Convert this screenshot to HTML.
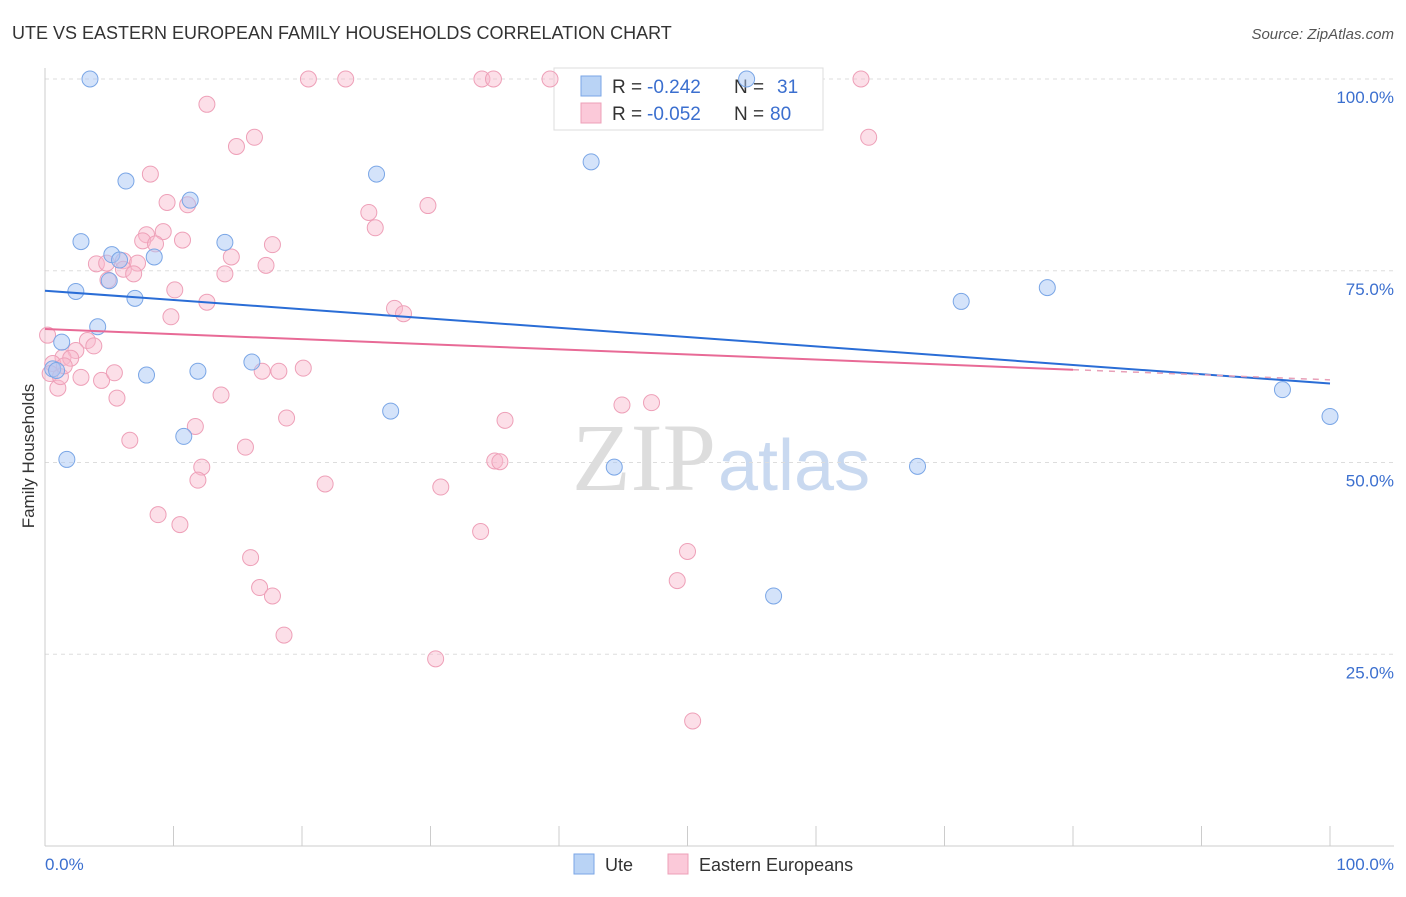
<!DOCTYPE html>
<html><head><meta charset="utf-8"><style>
body{margin:0;background:#fff;font-family:"Liberation Sans",sans-serif;}
</style></head><body>
<svg width="1406" height="892" xmlns="http://www.w3.org/2000/svg" id="svg">
<text x="12" y="39" font-size="18" fill="#333">UTE VS EASTERN EUROPEAN FAMILY HOUSEHOLDS CORRELATION CHART</text>
<text x="1394" y="39" font-size="15" fill="#555" text-anchor="end" font-style="italic">Source: ZipAtlas.com</text>
<text x="716" y="490" font-size="96" text-anchor="end" fill="#ddd" font-family="Liberation Serif">ZIP</text>
<text x="718" y="490" font-size="72" fill="#c9d9f0">atlas</text>
<g id="grid"></g>
<g font-size="19">
<rect x="554" y="68" width="269" height="62" fill="#fff" stroke="#ddd"/>
<rect x="581" y="76" width="20" height="20" fill="#b9d3f5" stroke="#7aa6e6"/>
<rect x="581" y="103" width="20" height="20" fill="#fbc9d9" stroke="#eea0b8"/>
<text x="612" y="93" fill="#333">R =</text><text x="647" y="93" fill="#3b6fcf">-0.242</text>
<text x="734" y="93" fill="#333">N =</text><text x="777" y="93" fill="#3b6fcf">31</text>
<text x="612" y="120" fill="#333">R =</text><text x="647" y="120" fill="#3b6fcf">-0.052</text>
<text x="734" y="120" fill="#333">N =</text><text x="770" y="120" fill="#3b6fcf">80</text>
</g>
<g id="pts"></g><g id="lines"></g>
<text transform="translate(34,456) rotate(-90)" font-size="17" fill="#333" text-anchor="middle">Family Households</text>
<text x="45" y="870" font-size="17" fill="#3b6fcf">0.0%</text>
<text x="1394" y="870" font-size="17" fill="#3b6fcf" text-anchor="end">100.0%</text>
<g>
<rect x="574" y="854" width="20" height="20" fill="#b9d3f5" stroke="#7aa6e6"/>
<text x="605" y="871" font-size="18" fill="#333">Ute</text>
<rect x="668" y="854" width="20" height="20" fill="#fbc9d9" stroke="#eea0b8"/>
<text x="699" y="871" font-size="18" fill="#333">Eastern Europeans</text>
</g>
</svg>
<script>
const uteX=[3.5,54.6,6.3,11.3,25.8,42.5,2.8,14,5.2,8.5,5.8,5,2.4,7,4.1,1.3,0.6,7.9,11.9,16.1,10.8,26.9,1.7,44.3,67.9,56.7,71.3,78,96.3,100,0.9];
const uteY=[100,100,86.7,84.2,87.6,89.2,78.8,78.7,77.1,76.8,76.4,73.7,72.3,71.4,67.7,65.7,62.2,61.4,61.9,63.1,53.4,56.7,50.4,49.4,49.5,32.6,71,72.8,59.5,56,62];
const eeX=[20.5,23.4,34,34.9,39.3,63.5,12.6,16.3,14.9,64.1,8.2,9.5,11.1,25.2,29.8,25.7,7.9,9.2,7.6,8.6,10.7,17.7,14.5,4.0,4.8,6.1,7.2,6.1,6.9,4.9,14,17.2,10.1,12.6,27.2,27.9,9.8,0.2,3.3,3.8,2.4,1.4,2,0.6,0.4,1,2.8,4.4,5.4,5.6,16.9,18.2,20.1,13.7,18.8,35.8,44.9,47.2,11.7,6.6,15.6,12.2,11.9,21.8,30.8,35,35.4,8.8,10.5,33.9,16,50,16.7,17.7,49.2,18.6,30.4,50.4,1.2,1.5];
const eeY=[100,100,100,100,100,100,96.7,92.4,91.2,92.4,87.6,83.9,83.6,82.6,83.5,80.6,79.7,80.1,78.9,78.5,79,78.4,76.8,75.9,76,76.3,76,75.2,74.6,73.8,74.6,75.7,72.5,70.9,70.1,69.4,69,66.6,65.9,65.2,64.6,63.7,63.6,62.9,61.6,59.7,61.1,60.7,61.7,58.4,61.9,61.9,62.3,58.8,55.8,55.5,57.5,57.8,54.7,52.9,52,49.4,47.7,47.2,46.8,50.2,50.1,43.2,41.9,41,37.6,38.4,33.7,32.6,34.6,27.5,24.4,16.3,61.2,62.6];
const uteTrend=[72.4,60.3];
const eeTrend=[67.4,62.1];
const yTicks=[25,50,75,100];
const X=v=>45+v*12.85, Y=v=>846-v*7.67;
const NS="http://www.w3.org/2000/svg";
function mk(tag,attrs,parent){const e=document.createElementNS(NS,tag);for(const k in attrs)e.setAttribute(k,attrs[k]);document.getElementById(parent).appendChild(e);return e;}
yTicks.forEach(t=>{
 const l=mk('line',{x1:45,x2:1394,y1:Y(t),y2:Y(t),stroke:'#ddd','stroke-dasharray':'4,4'},'grid');
 
 
 const tx=mk('text',{x:1394,y:Y(t)+24,'font-size':17,fill:'#3b6fcf','text-anchor':'end'},'grid');
 tx.textContent=t.toFixed(1)+'%';
 
 
});
mk('line',{x1:45,x2:45,y1:68,y2:846,stroke:'#ccc'},'grid');
mk('line',{x1:45,x2:1394,y1:846,y2:846,stroke:'#ccc'},'grid');
for(let i=0;i<=10;i++){const l=mk('line',{x1:X(i*10),x2:X(i*10),y1:826,y2:846,stroke:'#ccc'},'grid');
 
 }
eeX.forEach((x,i)=>{const c=mk('circle',{cx:X(x),cy:Y(eeY[i]),r:8,fill:'rgba(248,185,205,0.45)',stroke:'#eea0b8','stroke-width':1},'pts');
 
 });
uteX.forEach((x,i)=>{const c=mk('circle',{cx:X(x),cy:Y(uteY[i]),r:8,fill:'rgba(170,200,245,0.5)',stroke:'#7aa6e6','stroke-width':1},'pts');
 
 });
const ub=mk('line',{x1:X(0),y1:Y(uteTrend[0]),x2:X(100),y2:Y(uteTrend[1]),stroke:'#2a6dd6','stroke-width':2},'lines');


const pe=mk('line',{x1:X(0),y1:Y(eeTrend[0]),x2:X(80),y2:Y(eeTrend[1]),stroke:'#e86a96','stroke-width':2},'lines');


const slope=(eeTrend[1]-eeTrend[0])/80;
const pd=mk('line',{x1:X(80),y1:Y(eeTrend[1]),x2:X(100),y2:Y(eeTrend[1]+slope*20),stroke:'#e8a0b8','stroke-width':1.5,'stroke-dasharray':'6,6'},'lines');


</script>
</body></html>
